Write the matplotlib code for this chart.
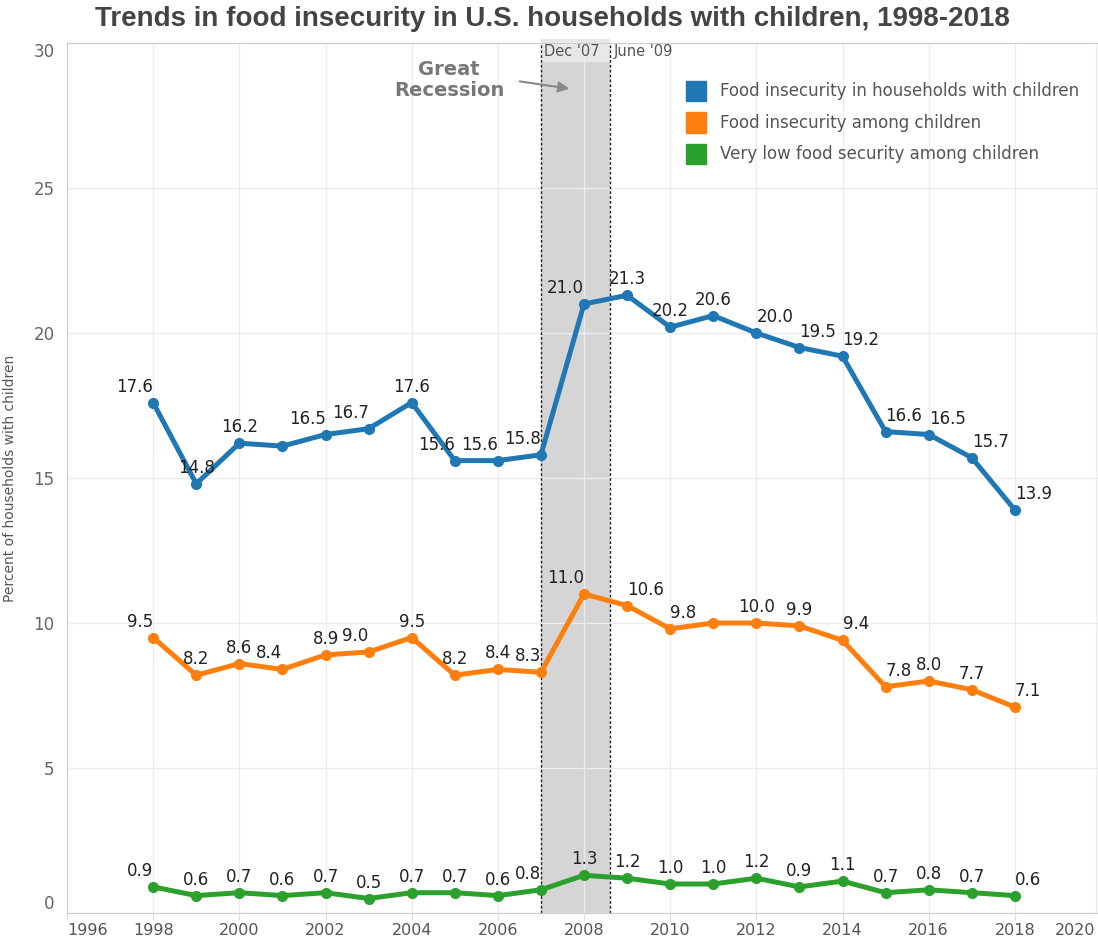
import matplotlib.pyplot as plt
from matplotlib.patches import Rectangle

years = list(range(1998, 2019))

households = [17.6, 14.8, 16.2, 16.1, 16.5, 16.7, 17.6, 15.6, 15.6, 15.8, 21.0,
              21.3, 20.2, 20.6, 20.0, 19.5, 19.2, 16.6, 16.5, 15.7, 13.9]
children = [9.5, 8.2, 8.6, 8.4, 8.9, 9.0, 9.5, 8.2, 8.4, 8.3, 11.0,
            10.6, 9.8, 10.0, 10.0, 9.9, 9.4, 7.8, 8.0, 7.7, 7.1]
very_low = [0.9, 0.6, 0.7, 0.6, 0.7, 0.5, 0.7, 0.7, 0.6, 0.8, 1.3,
            1.2, 1.0, 1.0, 1.2, 0.9, 1.1, 0.7, 0.8, 0.7, 0.6]

series_names = ["Food insecurity in households with children",
                "Food insecurity among children",
                "Very low food security among children"]
colors = ["#1f77b4", "#ff7f0e", "#2ca02c"]

# where each value label sits: L = left of point, C = centred, R = right, _ = none
label_pos = [
    "L C C _ L L C L L L L C C C R R R R R R R".split(),
    "L C C L C L C C C L L R R _ C C R R C C R".split(),
    "L C C C C C C C C L C C C C C C C C C C R".split(),
]

recession_start = 2007.0
recession_end = 2008.6

W, H = 1098, 944
fig = plt.figure(figsize=(W / 100, H / 100), dpi=100)
ax = fig.add_axes([67 / W, 1 - 913 / H, 1 - 67 / W, (913 - 43) / H])

ax.set_xlim(1996, 2019.93)
ax.set_ylim(0, 30)

ax.axvspan(recession_start, recession_end, color="#d5d5d5", zorder=0.4, lw=0)
ax.add_patch(Rectangle((recession_start, 29.35), recession_end - recession_start, 0.8,
                       color="#e8e8e8", zorder=0.45, lw=0, clip_on=False))
for xv in (recession_start, recession_end):
    ax.axvline(xv, color="#222222", ls=(0, (2, 1.5)), lw=1, zorder=1)

ax.text(recession_start + 0.08, 29.7, "Dec '07", ha="left", va="center",
        fontsize=10.5, color="#555555")
ax.text(recession_end + 0.1, 29.7, "June '09", ha="left", va="center",
        fontsize=10.5, color="#555555")

ha_map = {"L": "right", "C": "center", "R": "left"}
for vals, col, pos in zip([households, children, very_low], colors, label_pos):
    ax.plot(years, vals, color=col, lw=3.6, marker="o", ms=7, zorder=3,
            solid_joinstyle="round")
    for x, v, p in zip(years, vals, pos):
        if p == "_":
            continue
        ax.annotate(f"{v:.1f}", (x, v), xytext=(0, 11.5), textcoords="offset points",
                    ha=ha_map[p], va="center", fontsize=12, color="#222222", zorder=4)

# axes styling
ax.set_axisbelow(True)
ax.set_yticks(range(0, 31, 5))
ax.grid(True, color="#ececec", lw=1)
ax.spines["right"].set_visible(False)
for s in ["left", "bottom", "top"]:
    ax.spines[s].set_color("#cccccc")

# last year label is pulled inside the right edge
ax.set_xticks(list(range(1996, 2020, 2)) + [2019.88])
ax.set_xticklabels([str(y) for y in range(1996, 2021, 2)])
ax.tick_params(axis="x", length=5, color="#dddddd", labelsize=11.5, labelcolor="#555555", pad=2)
ax.tick_params(axis="y", length=0, labelsize=12, labelcolor="#666666", pad=9)
xl = ax.get_xticklabels()
xl[0].set_ha("left")
xl[-1].set_ha("right")
ax.get_xticklines()[-2].set_visible(False)
yl = ax.get_yticklabels()
yl[0].set_va("bottom")
yl[-1].set_va("top")

ax.set_ylabel("Percent of households with children", fontsize=10, color="#555555")
ax.yaxis.set_label_coords(-50 / (W - 67), 0.5)

fig.text(552 / W, 1 - 19 / H,
         "Trends in food insecurity in U.S. households with children, 1998-2018",
         ha="center", va="center", fontsize=20, fontweight="bold", color="#444444",
         family=["Liberation Sans Narrow", "Liberation Sans", "DejaVu Sans"])

fig.text(449 / W, 1 - 80 / H, "Great\nRecession", ha="center", va="center",
         fontsize=14, fontweight="bold", color="#777777", linespacing=1.1)
ax.annotate("", xy=(572 / W, 1 - 89 / H), xytext=(517 / W, 1 - 81 / H),
            xycoords="figure fraction", textcoords="figure fraction",
            arrowprops=dict(arrowstyle="-|>", color="#888888", lw=1.5, mutation_scale=16))

# legend
for i, (name, col) in enumerate(zip(series_names, colors)):
    cy = 91 + i * 31.5
    fig.patches.append(Rectangle((686 / W, 1 - (cy + 10) / H), 20 / W, 20 / H,
                                 transform=fig.transFigure, color=col, figure=fig))
    fig.text(720 / W, 1 - cy / H, name, ha="left", va="center", fontsize=12,
             color="#555555")

fig.savefig("out.png", dpi=100)
